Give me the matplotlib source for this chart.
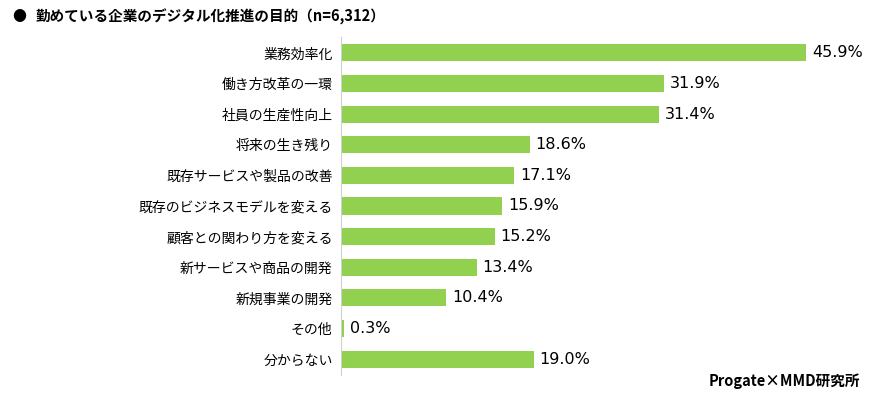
import matplotlib
matplotlib.use("Agg")
import matplotlib.pyplot as plt

plt.rcParams['font.family'] = ['Noto Sans CJK JP', 'DejaVu Sans']

# data
categories = ["業務効率化", "働き方改革の一環", "社員の生産性向上", "将来の生き残り",
              "既存サービスや製品の改善", "既存のビジネスモデルを変える", "顧客との関わり方を変える",
              "新サービスや商品の開発", "新規事業の開発", "その他", "分からない"]
values = [45.9, 31.9, 31.4, 18.6, 17.1, 15.9, 15.2, 13.4, 10.4, 0.3, 19.0]

title = "勤めている企業のデジタル化推進の目的（n=6,312）"
source = "Progate×MMD研究所"
bar_color = "#92D050"

fig = plt.figure(figsize=(8.72, 3.97), dpi=100)
ax = fig.add_axes([341 / 872, 1 - 375 / 397, (848 - 341) / 872, (375 - 37) / 397])

ypos = list(range(len(categories)))
ax.barh(ypos, values, height=0.56, color=bar_color)
ax.set_xlim(0, 50)
ax.set_ylim(10.52, -0.52)

ax.set_yticks(ypos)
ax.set_yticklabels(categories, fontsize=10)
ax.tick_params(axis='y', length=0, pad=6)
ax.set_xticks([])
for s in ["top", "right", "bottom"]:
    ax.spines[s].set_visible(False)
ax.spines["left"].set_color("#d0d0d0")

# value labels in a wider latin face, like the original
for y, v in zip(ypos, values):
    ax.text(v + 0.55, y, f"{v:.1f}%", va="center", ha="left", fontsize=11.5,
            family="DejaVu Sans")

fig.text(12 / 872, 1 - 17 / 397, "●", fontsize=10, va="center", ha="left")
fig.text(35 / 872, 1 - 17 / 397, title, fontsize=10.5, fontweight="bold", va="center", ha="left")
fig.text(860 / 872, 1 - 381 / 397, source, fontsize=10.5, fontweight="bold", va="center", ha="right")

fig.savefig("out.png", dpi=100)
